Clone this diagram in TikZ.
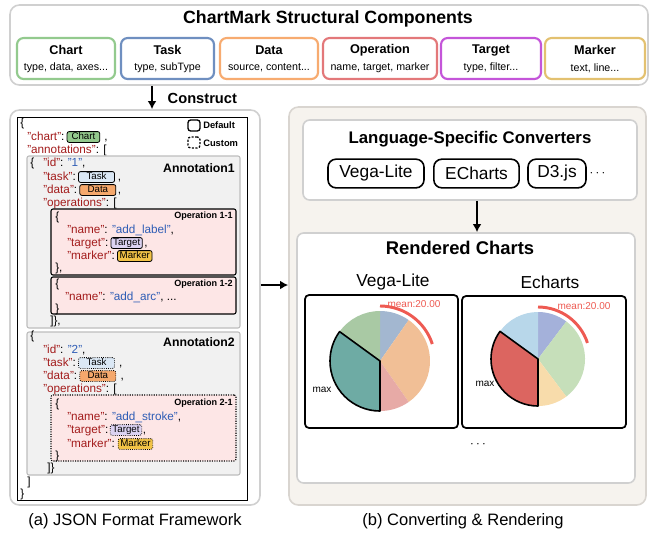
\documentclass[tikz,border=0pt]{standalone}
\usepackage{fontspec}
\setmainfont{Liberation Sans}
\usepackage{tikz}
\usetikzlibrary{positioning,fit,arrows.meta}

\definecolor{lgray}{HTML}{D0D0D0}
\definecolor{cgreen}{HTML}{93CA8E}
\definecolor{cblue}{HTML}{6F8FC0}
\definecolor{corange}{HTML}{F7AB70}
\definecolor{cred}{HTML}{E3787A}
\definecolor{cpurple}{HTML}{C455D9}
\definecolor{cgold}{HTML}{E3C170}
\definecolor{keyc}{HTML}{A31C1C}
\definecolor{valc}{HTML}{2F5DB5}
\definecolor{bchart}{HTML}{94C98D}
\definecolor{btask}{HTML}{DBE8F5}
\definecolor{bdata}{HTML}{F5A86C}
\definecolor{btarget}{HTML}{DCD3F2}
\definecolor{bmarker}{HTML}{F2C346}
\definecolor{annfill}{HTML}{F1F1F1}
\definecolor{anndraw}{HTML}{BDBDBD}
\definecolor{opfill}{HTML}{FDE6E6}
\definecolor{rbeige}{HTML}{F6F3EE}
\definecolor{rgray}{HTML}{D9D5D0}
\definecolor{meanc}{HTML}{EE5A52}
\definecolor{vlA}{HTML}{A3B7D0}
\definecolor{vlB}{HTML}{F1BF96}
\definecolor{vlC}{HTML}{E7AAA6}
\definecolor{vlD}{HTML}{6EABA4}
\definecolor{vlE}{HTML}{A9C9A4}
\definecolor{ecA}{HTML}{A4B1DA}
\definecolor{ecB}{HTML}{C6DFBA}
\definecolor{ecC}{HTML}{F8DCAB}
\definecolor{ecD}{HTML}{DC6560}
\definecolor{ecE}{HTML}{B8D7EA}

\newcommand{\fsz}[1]{\fontsize{#1}{#1}\selectfont}
\newcommand{\jk}[1]{\textcolor{keyc}{"#1"}}
\newcommand{\jv}[1]{\textcolor{valc}{"#1"}}

\begin{document}
\begin{tikzpicture}[x=0.75pt,y=-0.75pt,
  panel/.style={draw=#1, line width=1.2pt, rounded corners=7pt, inner sep=0pt},
  comp/.style={draw=#1, line width=1.6pt, rounded corners=5pt, fill=white, inner sep=0pt},
  box/.style={draw=lgray, line width=1.2pt, rounded corners=5pt, fill=white, inner sep=0pt},
  ann/.style={draw=anndraw, line width=0.8pt, rounded corners=1.5pt, fill=annfill, inner sep=0pt},
  opbox/.style={draw=black, line width=0.8pt, rounded corners=1.5pt, fill=opfill, inner sep=0pt},
  jl/.style={anchor=west, inner sep=0pt, font=\fsz{8.8}, text height=6.4pt, text depth=1.8pt},
  badge/.style={draw=black, line width=0.6pt, rounded corners=1.5pt, fill=#1, inner xsep=1.6pt,
    inner ysep=0.8pt, font=\fsz{7.3}, text height=5.3pt, text depth=1.2pt},
  cust/.style={densely dotted},
  pill/.style={draw=black, line width=1.2pt, rounded corners=6pt, minimum height=21.5pt, inner sep=0pt, font=\fsz{13}},
  frame/.style={draw=black, line width=1.3pt, rounded corners=3pt, inner sep=0pt},
  arr/.style={-{Latex[length=6pt,width=6.5pt]}, line width=1.3pt},
  meanarc/.style={meanc, line width=2.2pt},
  small/.style={font=\fsz{7.5}, inner sep=0pt}]
\useasboundingbox (0,0) rectangle (655,533);

% structural components
\node[panel=lgray, fill=white, fit={(10,5)(648,85)}] (comps) {};
\node[font=\bfseries\fsz{13.3}] (compst) at (328,19) {ChartMark Structural Components};
\foreach \xa/\xb/\col/\nm/\ttl/\sub in {17/115/cgreen/chart/Chart/{type, data, axes...},
    121/214/cblue/task/Task/{type, subType}, 220/318/corange/data/Data/{source, content...},
    323/437/cred/oper/Operation/{name, target, marker}, 441/541/cpurple/targ/Target/{type, filter...},
    545/645/cgold/mark/Marker/{text, line...}}{
  \node[comp=\col, fit={(\xa,38)(\xb,79)}] (\nm) {};
  \node[font=\bfseries\fsz{9.5}, inner sep=0pt] (\nm-t) at ({(\xa+\xb)/2},50) {\ttl};
  \node[font=\fsz{8}, inner sep=0pt] (\nm-s) at ({(\xa+\xb)/2},68) {\sub};
}

% (a) json framework
\node[panel=lgray, fill=white, fit={(10,110)(260,505)}] (json) {};
\node[draw=black, line width=0.7pt, inner sep=0pt, fit={(17,117)(247,500)}] (jsonin) {};
\coordinate (a1) at (152,0);
\draw[arr] (comps.south -| a1) -- (json.north -| a1);
\node[font=\bfseries\fsz{11}, anchor=west] (cons) at (163,98) {Construct};

\node[draw=black, line width=1pt, rounded corners=2pt, inner sep=0pt, fit={(188,120)(200,131)}] (dsq) {};
\node[font=\bfseries\fsz{7}, anchor=west, inner sep=0pt] (dtx) at (203,125) {Default};
\node[draw=black, line width=1pt, dash pattern=on 1.6pt off 1.1pt, rounded corners=2pt, inner sep=0pt, fit={(188,137)(200,148)}] (csq) {};
\node[font=\bfseries\fsz{7}, anchor=west, inner sep=0pt] (ctx) at (203,143) {Custom};

\node[jl] (j1) at (20,123) {\{};
\node[jl] (j2) at (27,137) {\jk{chart}:};
\node[badge=bchart, minimum width=24.5pt, right=1.5pt of j2] (bch) {Chart};
\node[jl, right=3pt of bch] (j2c) {,};
\node[jl] (j3) at (27,150) {\jk{annotations}: [};

% annotation 1
\node[ann, fit={(27,156)(240,328)}] (ann1) {};
\node[font=\bfseries\fsz{9.2}, anchor=east, inner sep=0pt] (ann1t) at (235,168) {Annotation1};
\node[jl] (k1) at (30,163) {\{};
\node[jl] (k2) at (43,163) {\jk{id}: \jv{1},};
\node[jl] (k3) at (43,177) {\jk{task}:};
\node[badge=btask, minimum width=27pt, right=1.5pt of k3] (bt1) {Task};
\node[jl, right=2pt of bt1] (k3c) {,};
\node[jl] (k4) at (43,190) {\jk{data}:};
\node[badge=bdata, minimum width=27pt, right=1.5pt of k4] (bd1) {Data};
\node[jl, right=1pt of bd1] (k4c) {,};
\node[jl] (k5) at (43,203) {\jk{operations}: [};

\node[opbox, fit={(51,209)(236,275)}] (op11) {};
\node[font=\bfseries\fsz{6.8}, anchor=east, inner sep=0pt] (op11t) at (233,216) {Operation 1-1};
\node[jl] (m1) at (55,217) {\{};
\node[jl] (m2) at (67,230) {\jk{name}: \jv{add\_label},};
\node[jl] (m3) at (67,243) {\jk{target}:};
\node[badge=btarget, right=1.5pt of m3] (bg1) {Target};
\node[jl, right=1pt of bg1] (m3c) {,};
\node[jl] (m4) at (67,256) {\jk{marker}:};
\node[badge=bmarker, right=1.5pt of m4] (bm1) {Marker};
\node[jl] (m5) at (55,268) {\},};

\node[opbox, fit={(51,277)(236,314)}] (op12) {};
\node[font=\bfseries\fsz{6.8}, anchor=east, inner sep=0pt] (op12t) at (233,284) {Operation 1-2};
\node[jl] (n1) at (55,284) {\{};
\node[jl] (n2) at (65,297) {\jk{name}: \jv{add\_arc}, ...};
\node[jl] (n3) at (55,309) {\}};
\node[jl] (k6) at (50,321) {]\},};

% annotation 2
\node[ann, fit={(27,332)(240,475)}] (ann2) {};
\node[font=\bfseries\fsz{9.2}, anchor=east, inner sep=0pt] (ann2t) at (235,342) {Annotation2};
\node[jl] (p1) at (30,336) {\{};
\node[jl] (p2) at (43,350) {\jk{id}: \jv{2},};
\node[jl] (p3) at (43,363) {\jk{task}:};
\node[badge=btask, cust, minimum width=27pt, right=1.5pt of p3] (bt2) {Task};
\node[jl, right=3pt of bt2] (p3c) {,};
\node[jl] (p4) at (43,376) {\jk{data}:};
\node[badge=bdata, cust, minimum width=27pt, right=1.5pt of p4] (bd2) {Data};
\node[jl, right=3pt of bd2] (p4c) {,};
\node[jl] (p5) at (43,389) {\jk{operations}: [};

\node[opbox, cust, fit={(51,395)(236,461)}] (op21) {};
\node[font=\bfseries\fsz{6.8}, anchor=east, inner sep=0pt] (op21t) at (233,403) {Operation 2-1};
\node[jl] (q1) at (55,404) {\{};
\node[jl] (q2) at (67,417) {\jk{name}: \jv{add\_stroke},};
\node[jl] (q3) at (67,430) {\jk{target}:};
\node[badge=btarget, cust, right=1pt of q3] (bg2) {Target};
\node[jl, right=0.5pt of bg2] (q3c) {,};
\node[jl] (q4) at (67,444) {\jk{marker}:};
\node[badge=bmarker, cust, right=2pt of q4] (bm2) {Marker};
\node[jl] (q5) at (55,456) {\}};
\node[jl] (p6) at (47,468) {]\}};
\node[jl] (j4) at (27,482) {]};
\node[jl] (j5) at (20,494) {\}};

\node[font=\fsz{12.4}] (capa) at (135,521) {(a) JSON Format Framework};

% (b) converting and rendering
\node[panel=rgray, fill=rbeige, fit={(289,107)(646,505)}] (conv) {};
\coordinate (a2) at (0,285);
\draw[arr] (json.east |- a2) -- (conv.west |- a2);

\node[box, fit={(303,120)(637,200)}] (lang) {};
\node[font=\bfseries\fsz{12.6}] (langt) at (470,139) {Language-Specific Converters};
\foreach \cx/\w/\nm/\txt in {376/72/pv/Vega-Lite, 476.5/64/pe/ECharts, 557/43.5/pd/D3.js}
  \node[pill, minimum width=\w pt] (\nm) at (\cx,173.5) {\txt};
\node[right=2pt of pd, inner sep=0pt] (pdots) {$\cdots$};

\node[box, fit={(297,233)(635,483)}] (rend) {};
\coordinate (a3) at (477,0);
\draw[arr] (lang.south -| a3) -- (rend.north -| a3);
\node[font=\bfseries\fsz{13.8}] (rendt) at (460,248) {Rendered Charts};
\node[font=\fsz{13}] (vlt) at (393,282) {Vega-Lite};
\node[font=\fsz{13}] (ect) at (550,282) {Echarts};
\node[frame, fit={(305,295)(458,428)}] (vlf) {};
\node[frame, fit={(462,296)(626,428)}] (ecf) {};

% vega-lite pie
\coordinate (vc) at (380,361);
\foreach \a/\b/\c in {-90/-55/vlA, -55/55/vlB, 55/90/vlC, 216/270/vlE}
  \fill[\c] (vc) -- +(\a:50) arc[start angle=\a, end angle=\b, radius=50] -- cycle;
\draw[fill=vlD, line width=1.2pt, line join=round] (vc) -- +(90:50) arc[start angle=90, end angle=216, radius=50] -- cycle;
\draw[meanarc] (vc) ++(-90:55) arc[start angle=-90, end angle=-18, radius=55];
\node[small, text=meanc] (vlmean) at (414,304) {mean:20.00};
\node[small] (vlmax) at (322,390) {max};

% echarts pie
\coordinate (ec) at (538,359);
\foreach \a/\b/\c in {-90/-53/ecA, -53/53/ecB, 53/90/ecC, 216/270/ecE}
  \fill[\c] (ec) -- +(\a:47) arc[start angle=\a, end angle=\b, radius=47] -- cycle;
\draw[fill=ecD, line width=1.2pt, line join=round] (ec) -- +(90:47) arc[start angle=90, end angle=216, radius=47] -- cycle;
\draw[meanarc] (ec) ++(-90:52) arc[start angle=-90, end angle=-18, radius=52];
\node[small, text=meanc] (ecmean) at (584,306) {mean:20.00};
\node[small] (ecmax) at (485,384) {max};

\node (rdots) at (478,445) {$\cdots$};
\node[font=\fsz{12.4}] (capb) at (463,521) {(b) Converting \& Rendering};
\end{tikzpicture}
\end{document}
